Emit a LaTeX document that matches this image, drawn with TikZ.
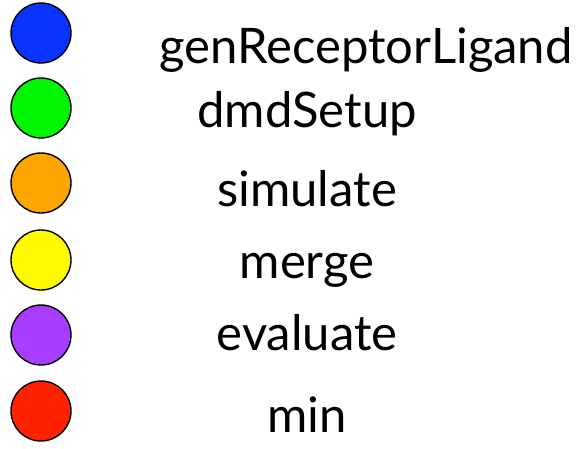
\documentclass[tikz,border=0pt]{standalone}
\usepackage{fontspec}
\setmainfont{Lato}
\begin{document}
\begin{tikzpicture}[x=1pt,y=-1pt,
  dot/.style={circle,draw=black,line width=1.4pt,minimum size=60pt,inner sep=0pt},
  lbl/.style={anchor=base,inner sep=0pt,font=\fontsize{49}{52}\selectfont}]
\definecolor{cblue}{HTML}{0A33FF}
\definecolor{cgreen}{HTML}{00F500}
\definecolor{corange}{HTML}{FFA500}
\definecolor{cyellow}{HTML}{FFFA00}
\definecolor{cpurple}{HTML}{A83CFF}
\definecolor{cred}{HTML}{FF2200}
\useasboundingbox (0,0) rectangle (578,448);
% colour key
\node[dot,fill=cblue]   (d1) at (41,33)  {};
\node[dot,fill=cgreen]  (d2) at (41,108) {};
\node[dot,fill=corange] (d3) at (41,183) {};
\node[dot,fill=cyellow] (d4) at (41,260) {};
\node[dot,fill=cpurple] (d5) at (41,335) {};
\node[dot,fill=cred]    (d6) at (41,411) {};
% stage names
\node[lbl] (t1) at (366,63)  {genReceptorLigand};
\node[lbl] (t2) at (307,127) {dmdSetup};
\node[lbl] (t3) at (307,206) {simulate};
\node[lbl] (t4) at (307,278) {merge};
\node[lbl] (t5) at (307,350) {evaluate};
\node[lbl] (t6) at (307,432) {min};
\end{tikzpicture}
\end{document}
